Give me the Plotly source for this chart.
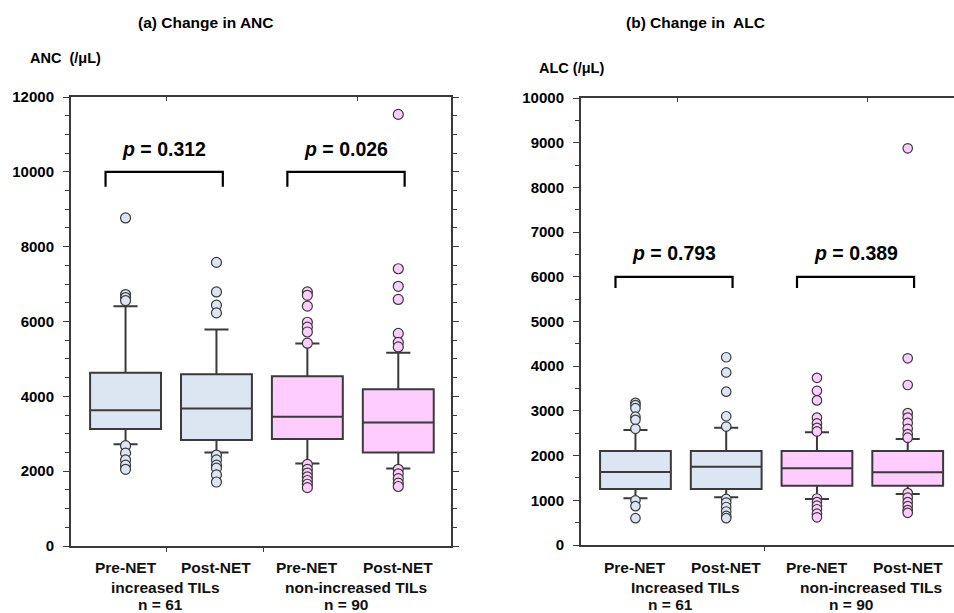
import plotly.graph_objects as go

# ---------------- data ----------------
categories = ["Pre-NET", "Post-NET", "Pre-NET", "Post-NET"]
group_labels_a = ["increased TILs", "non-increased TILs"]
group_labels_b = ["Increased TILs", "non-increased TILs"]
group_n = ["n = 61", "n = 90"]

# ANC (/uL) box statistics
anc_q1 = [3124, 2830, 2857, 2502]
anc_median = [3631, 3677, 3453, 3303]
anc_q3 = [4627, 4593, 4540, 4192]
anc_lower = [2720, 2500, 2208, 2074]
anc_upper = [6409, 5786, 5412, 5162]
anc_outliers = [
    [8767, 6720, 6640, 6560, 2680, 2480, 2300, 2160, 2050],
    [7580, 6790, 6435, 6230, 2430, 2300, 2160, 2080, 1900, 1710],
    [6790, 6700, 6410, 5980, 5850, 5720, 5420, 2180, 2050, 1950, 1850, 1750, 1650, 1560],
    [11535, 7410, 6940, 6590, 5680, 5440, 5320, 2050, 1930, 1800, 1680, 1590],
]

# ALC (/uL) box statistics
alc_q1 = [1253, 1253, 1327, 1327]
alc_median = [1633, 1752, 1715, 1626]
alc_q3 = [2103, 2103, 2103, 2103]
alc_lower = [1045, 1067, 1029, 1141]
alc_upper = [2573, 2625, 2521, 2371]
alc_outliers = [
    [3180, 3130, 3060, 2870, 2800, 2600, 1000, 870, 600],
    [4200, 3860, 3430, 2880, 2650, 1030, 950, 850, 750, 650, 600],
    [3740, 3450, 3235, 2850, 2720, 2620, 2540, 1040, 960, 880, 800, 700, 620],
    [8875, 4177, 3579, 2950, 2850, 2730, 2600, 2480, 2400, 1160, 1060, 960, 870, 780, 720],
]

p_values_a = ["0.312", "0.026"]
p_values_b = ["0.793", "0.389"]

# ---------------- style ----------------
fills = ["#DCE6F2", "#DCE6F2", "#FFCCFF", "#FFCCFF"]
edge = "#3a3a3a"
FONT = "Liberation Sans, Arial, sans-serif"

fig = go.Figure()


def add_panel(xa, ya, q1, med, q3, lo, up, outl, msize):
    for i in range(len(categories)):
        fig.add_trace(go.Box(
            x0=i, q1=[q1[i]], median=[med[i]], q3=[q3[i]],
            lowerfence=[lo[i]], upperfence=[up[i]],
            width=0.78, whiskerwidth=0.34,
            fillcolor=fills[i], line=dict(color=edge, width=2),
            boxpoints=False, showlegend=False, hoverinfo="skip",
            xaxis=xa, yaxis=ya,
        ))
        fig.add_trace(go.Scatter(
            x=[i] * len(outl[i]), y=outl[i], mode="markers",
            marker=dict(size=msize, color=fills[i], line=dict(color=edge, width=1.2)),
            showlegend=False, hoverinfo="skip", xaxis=xa, yaxis=ya,
        ))


add_panel("x", "y", anc_q1, anc_median, anc_q3, anc_lower, anc_upper, anc_outliers, 10)
add_panel("x2", "y2", alc_q1, alc_median, alc_q3, alc_lower, alc_upper, alc_outliers, 9.5)

# dummy traces so the top tick axes are drawn
fig.add_trace(go.Scatter(x=[None], y=[None], xaxis="x3", yaxis="y", showlegend=False))
fig.add_trace(go.Scatter(x=[None], y=[None], xaxis="x4", yaxis="y2", showlegend=False))

tickfont = dict(family=FONT, size=15, color="black", weight="bold")
axline = dict(showline=True, linecolor=edge, linewidth=2, showgrid=False, zeroline=False,
              automargin=False)

fig.update_layout(
    template="none",
    width=954, height=613,
    margin=dict(l=0, r=0, t=0, b=0, autoexpand=False),
    paper_bgcolor="white", plot_bgcolor="white",
    xaxis=dict(domain=[71 / 954, 451 / 954], range=[-0.6, 3.58], anchor="y",
               tickvals=[0.45, 1.52], ticktext=["", ""], ticks="outside", ticklen=4,
               tickcolor=edge, mirror=True, **axline),
    yaxis=dict(domain=[67 / 613, 516 / 613], range=[0, 12000], dtick=2000, anchor="x",
               tickformat="d",
               ticks="outside", ticklen=6, tickcolor=edge, tickfont=tickfont,
               minor=dict(dtick=500, ticks="outside", ticklen=4, tickcolor=edge, showgrid=False),
               mirror="ticks", ticklabelstandoff=6, **axline),
    xaxis3=dict(overlaying="x", side="top", range=[-0.6, 3.58], anchor="y",
                tickvals=[0.45, 2.55], ticktext=["", ""], ticks="inside", ticklen=4,
                tickcolor=edge, showline=False, showgrid=False, zeroline=False, automargin=False),
    xaxis2=dict(domain=[581 / 954, 1.0], range=[-0.6, 3.51], anchor="y2",
                tickvals=[1.42], ticktext=[""], ticks="outside", ticklen=4,
                tickcolor=edge, mirror=True, **axline),
    yaxis2=dict(domain=[68 / 613, 515 / 613], range=[0, 10000], dtick=1000, anchor="x2",
                tickformat="d",
                ticks="outside", ticklen=6, tickcolor=edge, tickfont=tickfont,
                minor=dict(dtick=500, ticks="outside", ticklen=4, tickcolor=edge, showgrid=False),
                mirror=False, ticklabelstandoff=6, **axline),
    xaxis4=dict(overlaying="x2", side="top", range=[-0.6, 3.51], anchor="y2",
                tickvals=[0.46, 2.56], ticktext=["", ""], ticks="inside", ticklen=4,
                tickcolor=edge, showline=False, showgrid=False, zeroline=False, automargin=False),
)

ann = []
shapes = []

# titles and axis labels
ann.append(dict(text="<b>(a) Change in ANC</b>", xref="paper", yref="paper",
                x=205 / 954, y=1 - 22 / 613, showarrow=False, xanchor="center", yanchor="middle",
                font=dict(family=FONT, size=15.5, color="black")))
ann.append(dict(text="<b>(b) Change in&nbsp; ALC</b>", xref="paper", yref="paper",
                x=695 / 954, y=1 - 22 / 613, showarrow=False, xanchor="center", yanchor="middle",
                font=dict(family=FONT, size=15.5, color="black")))
ann.append(dict(text="<b>ANC&nbsp; (/μL)</b>", xref="paper", yref="paper",
                x=28 / 954, y=1 - 58 / 613, showarrow=False, xanchor="left", yanchor="middle",
                font=dict(family=FONT, size=14.5, color="black")))
ann.append(dict(text="<b>ALC (/μL)</b>", xref="paper", yref="paper",
                x=537 / 954, y=1 - 68 / 613, showarrow=False, xanchor="left", yanchor="middle",
                font=dict(family=FONT, size=14.5, color="black")))

labfont = dict(family=FONT, size=15.5, color="#111111")


def panel_labels(xa, group_labels, group_x, n_x):
    for i, c in enumerate(categories):
        ann.append(dict(text="<b>%s</b>" % c, xref=xa, yref="paper", x=i, y=1 - 567 / 613,
                        showarrow=False, xanchor="center", yanchor="middle", font=labfont))
    for g in range(2):
        ann.append(dict(text="<b>%s</b>" % group_labels[g], xref=xa, yref="paper",
                        x=group_x[g], y=1 - 587 / 613, showarrow=False,
                        xanchor="center", yanchor="middle", font=labfont))
        ann.append(dict(text="<b>%s</b>" % group_n[g], xref=xa, yref="paper",
                        x=n_x[g], y=1 - 604 / 613, showarrow=False,
                        xanchor="center", yanchor="middle", font=labfont))


panel_labels("x", group_labels_a, [0.44, 2.54], [0.38, 2.43])
panel_labels("x2", group_labels_b, [0.55, 2.59], [0.39, 2.37])


def brackets(xa, ya, pvals, top, drop, ptext_y):
    for g in range(2):
        a = 2 * g - 0.22
        b = 2 * g + 1.07
        shapes.append(dict(type="path", xref=xa, yref=ya,
                           path="M %f %f L %f %f L %f %f L %f %f" % (a, top - drop, a, top, b, top, b, top - drop),
                           line=dict(color="black", width=2.2)))
        ann.append(dict(text="<b><i>p</i> = %s</b>" % pvals[g], xref=xa, yref=ya,
                        x=(a + b) / 2, y=ptext_y, showarrow=False,
                        xanchor="center", yanchor="middle",
                        font=dict(family=FONT, size=19.5, color="black")))


brackets("x", "y", p_values_a, 10000, 400, 10600)
brackets("x2", "y2", p_values_b, 6000, 250, 6530)

fig.update_layout(annotations=ann, shapes=shapes)

fig.write_html(
    "out.html",
    config={"displayModeBar": False},
    post_script="document.body.style.margin='0';document.body.style.overflow='hidden';",
)
